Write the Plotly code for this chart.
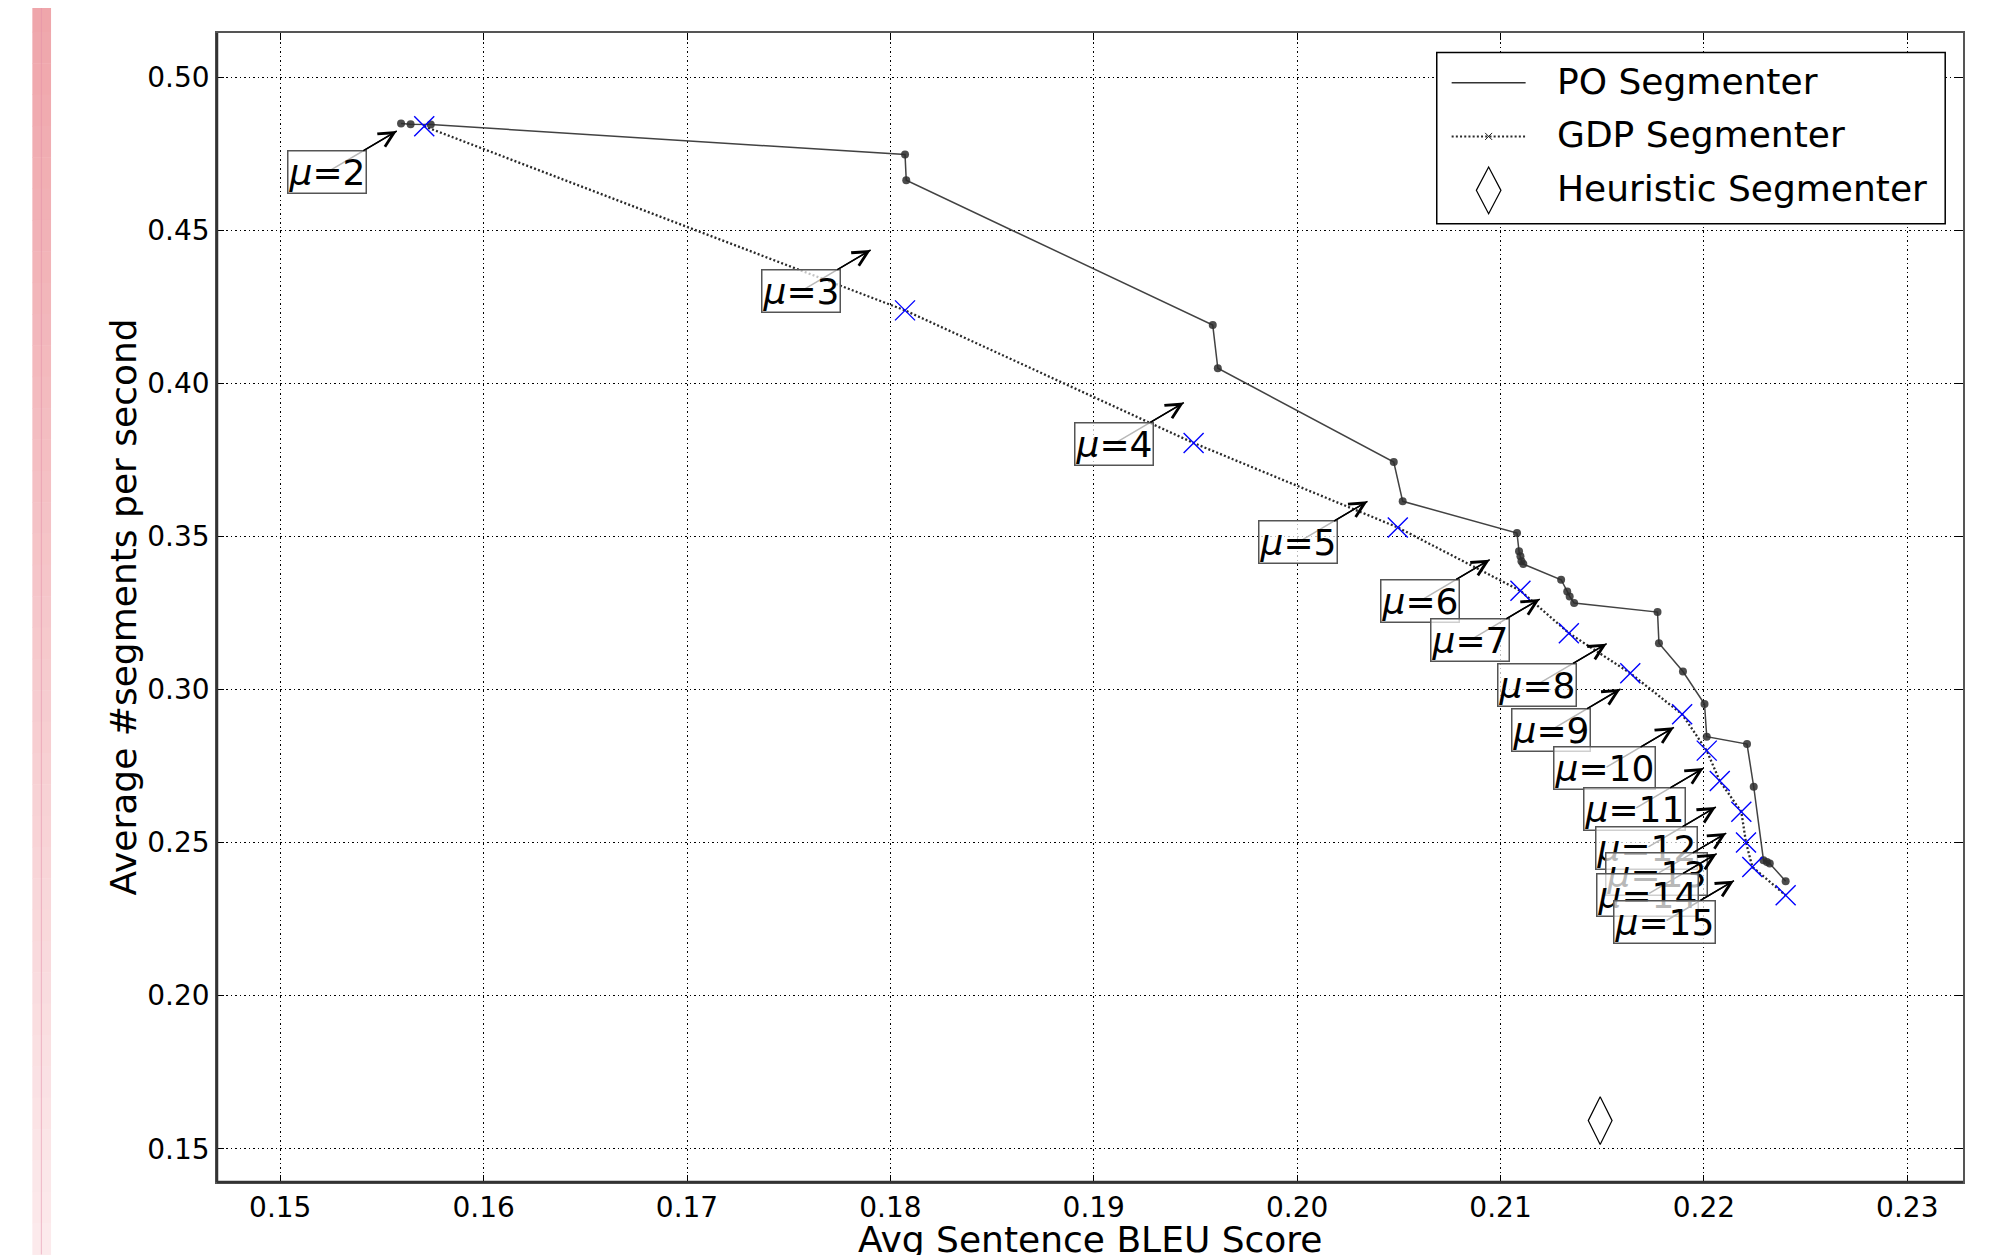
import plotly.graph_objects as go

# ---------------- data ----------------
po_x = [0.15594, 0.15641, 0.15740, 0.18072, 0.18078, 0.19585, 0.19610, 0.20475, 0.20519,
        0.21081, 0.21091, 0.21098, 0.21103, 0.21112, 0.21298, 0.21328, 0.21340, 0.21362,
        0.21772, 0.21779, 0.21897, 0.22003, 0.22014, 0.22212, 0.22245, 0.22293, 0.22310,
        0.22324, 0.22402]
po_y = [0.48479, 0.48456, 0.48446, 0.47469, 0.46629, 0.41900, 0.40488, 0.37424, 0.36144,
        0.35109, 0.34509, 0.34346, 0.34182, 0.34095, 0.33582, 0.33201, 0.33037, 0.32819,
        0.32525, 0.31510, 0.30583, 0.29525, 0.28457, 0.28217, 0.26821, 0.24422, 0.24367,
        0.24313, 0.23735]

gdp_x = [0.15708, 0.18072, 0.19491, 0.20495, 0.21098, 0.21336, 0.21638, 0.21893,
         0.22014, 0.22078, 0.22184, 0.22207, 0.22238, 0.22402]
gdp_y = [0.48391, 0.42379, 0.38049, 0.35290, 0.33222, 0.31838, 0.30529, 0.29187,
         0.28001, 0.27007, 0.26003, 0.25000, 0.24204, 0.23277]

heur_x = [0.21490]
heur_y = [0.15918]

mu_values = [2, 3, 4, 5, 6, 7, 8, 9, 10, 11, 12, 13, 14, 15]
mu_tip_x = [0.15573, 0.17903, 0.19443, 0.20346, 0.20947, 0.21193, 0.21522, 0.21590,
            0.21853, 0.21999, 0.22059, 0.22110, 0.22063, 0.22148]
mu_tip_y = [0.48237, 0.44351, 0.39369, 0.36144, 0.34236, 0.32951, 0.31495, 0.30014,
            0.28763, 0.27432, 0.26160, 0.25309, 0.24637, 0.23753]

x_ticks = [0.15, 0.16, 0.17, 0.18, 0.19, 0.20, 0.21, 0.22, 0.23]
y_ticks = [0.15, 0.20, 0.25, 0.30, 0.35, 0.40, 0.45, 0.50]

legend_labels = ["PO Segmenter", "GDP Segmenter", "Heuristic Segmenter"]

# ---------------- layout geometry (page pixels) ----------------
PAGE_W, PAGE_H = 2003, 1255
OFF = 8                       # default body margin of the html page
W, H = PAGE_W - OFF, PAGE_H - OFF
L, R, T, B = 217, 1963.5, 32.5, 1182.5
PW, PH = R - L, B - T
FONT = "DejaVu Sans"


def px(x):
    return (x - L) / PW


def py(y):
    return (B - y) / PH


fig = go.Figure()

fig.add_trace(go.Scatter(
    x=gdp_x, y=gdp_y, mode="lines",
    line=dict(color="#2a2a2a", width=2.3, dash="2px,2.2px"),
    showlegend=False, hoverinfo="skip"))

fig.add_trace(go.Scatter(
    x=po_x, y=po_y, mode="lines+markers",
    line=dict(color="rgba(45,45,45,0.9)", width=1.5),
    marker=dict(symbol="circle", size=8, color="rgba(45,45,45,0.85)"),
    showlegend=False, hoverinfo="skip"))

fig.add_trace(go.Scatter(
    x=gdp_x, y=gdp_y, mode="markers",
    marker=dict(symbol="x-thin", size=20, color="#0000ff",
                line=dict(color="#0000ff", width=1.4)),
    showlegend=False, hoverinfo="skip"))

fig.add_trace(go.Scatter(
    x=heur_x, y=heur_y, mode="markers",
    marker=dict(symbol="diamond-tall-open", size=34, color="black",
                line=dict(color="black", width=1.2)),
    showlegend=False, hoverinfo="skip"))

annotations = []
for m, tx, ty in zip(mu_values, mu_tip_x, mu_tip_y):
    # line from the label centre (shows faintly through the translucent box)
    annotations.append(dict(
        x=tx, y=ty, xref="x", yref="y",
        ax=-69.5, ay=41, axref="pixel", ayref="pixel",
        text=" ", showarrow=True, arrowhead=0, arrowwidth=1.5,
        arrowcolor="black", font=dict(size=2)))
    annotations.append(dict(
        x=tx, y=ty, xref="x", yref="y",
        ax=-69.5, ay=41, axref="pixel", ayref="pixel",
        text=f"<i>μ</i>={m}", showarrow=True,
        arrowhead=5, arrowsize=2.1, arrowwidth=1.4, arrowcolor="black",
        font=dict(family=FONT, size=36, color="black"),
        bgcolor="rgba(255,255,255,0.72)", bordercolor="#555555",
        borderwidth=1.5, borderpad=0))

# axis titles
annotations.append(dict(
    text="Avg Sentence BLEU Score", xref="paper", yref="paper",
    x=0.5, y=0, xanchor="center", yanchor="middle", yshift=-57,
    showarrow=False, font=dict(family=FONT, size=36, color="black")))
annotations.append(dict(
    text="Average #segments per second", xref="paper", yref="paper",
    x=0, y=0.5, xanchor="center", yanchor="middle", xshift=-94,
    textangle=-90, showarrow=False, font=dict(family=FONT, size=36, color="black")))

# custom legend
leg_rows = [82.3, 136, 190]
for lab, ry in zip(legend_labels, leg_rows):
    annotations.append(dict(
        text=lab, xref="paper", yref="paper", x=px(1555), y=py(ry - 1.5),
        xanchor="left", yanchor="middle", showarrow=False,
        font=dict(family=FONT, size=36, color="black")))

shapes = []
# pink strip on the far left
nseg = 40
c0 = (239, 166, 171)
c1 = (252, 234, 236)
for i in range(nseg):
    t = i / (nseg - 1)
    col = tuple(round(c0[k] + (c1[k] - c0[k]) * t) for k in range(3))
    y0 = i * PAGE_H / nseg
    y1 = (i + 1) * PAGE_H / nseg
    shapes.append(dict(type="rect", xref="paper", yref="paper",
                       x0=px(32.3), x1=px(51), y0=py(y0), y1=py(y1 + 0.5),
                       line=dict(width=0), fillcolor=f"rgb{col}", layer="below"))
shapes.append(dict(type="line", xref="paper", yref="paper",
                   x0=px(41.3), x1=px(41.3), y0=py(0), y1=py(PAGE_H),
                   line=dict(color="rgba(225,140,170,0.55)", width=1)))

# darker bottom/left spines
shapes.append(dict(type="line", xref="paper", yref="paper", x0=0, x1=1, y0=0, y1=0,
                   line=dict(color="#333333", width=2.5)))
shapes.append(dict(type="line", xref="paper", yref="paper", x0=0, x1=0, y0=0, y1=1,
                   line=dict(color="#333333", width=2.5)))

# legend box
shapes.append(dict(type="rect", xref="paper", yref="paper",
                   x0=px(1437.1), x1=px(1945.7), y0=py(223.3), y1=py(52),
                   line=dict(color="black", width=1.5), fillcolor="white"))
# legend samples
shapes.append(dict(type="line", xref="paper", yref="paper",
                   x0=px(1452), x1=px(1526), y0=py(leg_rows[0]), y1=py(leg_rows[0]),
                   line=dict(color="#333333", width=1.5)))
shapes.append(dict(type="line", xref="paper", yref="paper",
                   x0=px(1452), x1=px(1526), y0=py(leg_rows[1]), y1=py(leg_rows[1]),
                   line=dict(color="#2a2a2a", width=2, dash="2px,2.2px")))
shapes.append(dict(type="path", xref="paper", yref="paper",
                   xsizemode="pixel", ysizemode="pixel",
                   xanchor=px(1489), yanchor=py(leg_rows[1]),
                   path="M-3.5,-3.5L3.5,3.5M-3.5,3.5L3.5,-3.5",
                   line=dict(color="#222222", width=1)))
shapes.append(dict(type="path", xref="paper", yref="paper",
                   xsizemode="pixel", ysizemode="pixel",
                   xanchor=px(1489), yanchor=py(leg_rows[2]),
                   path="M0,23.3L12.3,0L0,-23.3L-12.3,0Z",
                   line=dict(color="black", width=1.2), fillcolor="rgba(0,0,0,0)"))

axis_common = dict(
    showgrid=True, gridcolor="black", gridwidth=1, griddash="1.5px,3px",
    showline=True, linecolor="#555555", linewidth=1.5, mirror="ticks",
    ticks="inside", ticklen=7, tickwidth=1, tickcolor="black",
    zeroline=False, tickfont=dict(family=FONT, size=28, color="black"),
    tickformat=".2f")

fig.update_layout(
    width=W, height=H,
    margin=dict(l=L - OFF, r=PAGE_W - R, t=T - OFF, b=PAGE_H - B, autoexpand=False),
    paper_bgcolor="white", plot_bgcolor="white",
    xaxis=dict(range=[0.14689, 0.23274], tickvals=x_ticks, **axis_common),
    yaxis=dict(range=[0.13913, 0.51438], tickvals=y_ticks, **axis_common),
    annotations=annotations, shapes=shapes, showlegend=False,
    font=dict(family=FONT),
)

fig.write_html("out.html")
